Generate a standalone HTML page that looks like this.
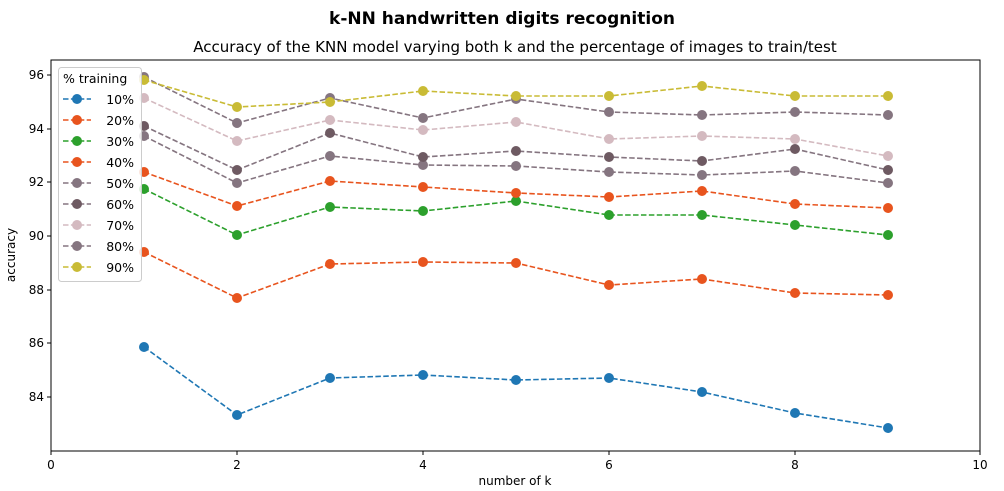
<!DOCTYPE html>
<html><head><meta charset="utf-8"><style>body{margin:0;background:#fff}svg{display:block;font-family:"DejaVu Sans","Liberation Sans",sans-serif}</style></head><body>
<svg width="1004" height="491" xmlns="http://www.w3.org/2000/svg">
<text x="502" y="24" text-anchor="middle" font-size="17" font-weight="bold">k-NN handwritten digits recognition</text>
<text x="515" y="52" text-anchor="middle" font-size="15">Accuracy of the KNN model varying both k and the percentage of images to train/test</text>
<rect x="51" y="60" width="929" height="391" fill="none" stroke="#000" stroke-width="1"/>
<g font-size="12" fill="#000">
<g stroke="#000"><line x1="51" y1="451" x2="51" y2="455"/><line x1="237" y1="451" x2="237" y2="455"/><line x1="423" y1="451" x2="423" y2="455"/><line x1="609" y1="451" x2="609" y2="455"/><line x1="795" y1="451" x2="795" y2="455"/><line x1="980" y1="451" x2="980" y2="455"/>
<line x1="47" y1="75" x2="51" y2="75"/><line x1="47" y1="129" x2="51" y2="129"/><line x1="47" y1="182" x2="51" y2="182"/><line x1="47" y1="236" x2="51" y2="236"/><line x1="47" y1="290" x2="51" y2="290"/><line x1="47" y1="343" x2="51" y2="343"/><line x1="47" y1="397" x2="51" y2="397"/></g>
<g text-anchor="middle"><text x="51" y="469">0</text><text x="237" y="469">2</text><text x="423" y="469">4</text><text x="609" y="469">6</text><text x="795" y="469">8</text><text x="980" y="469">10</text></g>
<g text-anchor="end"><text x="44" y="79">96</text><text x="44" y="133">94</text><text x="44" y="186">92</text><text x="44" y="240">90</text><text x="44" y="294">88</text><text x="44" y="347">86</text><text x="44" y="401">84</text></g>
<text x="515" y="485" text-anchor="middle">number of k</text>
<text transform="translate(15,255) rotate(-90)" text-anchor="middle">accuracy</text>
</g>
<g fill="none" stroke-width="1.6" stroke-dasharray="5.5,2.4" id="lines">
<polyline stroke="#1f77b4" points="144,347 237,415 330,378 423,375 516,380 609,378 702,392 795,413 888,428"/>
<polyline stroke="#e8541e" points="144,252 237,298 330,264 423,262 516,263 609,285 702,279 795,293 888,295"/>
<polyline stroke="#2ca02c" points="144,189 237,235 330,207 423,211 516,201 609,215 702,215 795,225 888,235"/>
<polyline stroke="#e8541e" points="144,172 237,206 330,181 423,187 516,193 609,197 702,191 795,204 888,208"/>
<polyline stroke="#857580" points="144,136 237,183 330,156 423,165 516,166 609,172 702,175 795,171 888,183"/>
<polyline stroke="#857580" points="144,126 237,170 330,133 423,157 516,151 609,157 702,161 795,149 888,170"/>
<polyline stroke="#d4bac0" points="144,98 237,141 330,120 423,130 516,122 609,139 702,136 795,139 888,156"/>
<polyline stroke="#857580" points="144,77 237,123 330,98 423,118 516,99 609,112 702,115 795,112 888,115"/>
<polyline stroke="#c9bb35" points="144,80 237,107 330,102 423,91 516,96 609,96 702,86 795,96 888,96"/>
</g>
<g>
<g fill="#1f77b4"><circle cx="144" cy="347" r="5"/><circle cx="237" cy="415" r="5"/><circle cx="330" cy="378" r="5"/><circle cx="423" cy="375" r="5"/><circle cx="516" cy="380" r="5"/><circle cx="609" cy="378" r="5"/><circle cx="702" cy="392" r="5"/><circle cx="795" cy="413" r="5"/><circle cx="888" cy="428" r="5"/></g>
<g fill="#e8541e"><circle cx="144" cy="252" r="5"/><circle cx="237" cy="298" r="5"/><circle cx="330" cy="264" r="5"/><circle cx="423" cy="262" r="5"/><circle cx="516" cy="263" r="5"/><circle cx="609" cy="285" r="5"/><circle cx="702" cy="279" r="5"/><circle cx="795" cy="293" r="5"/><circle cx="888" cy="295" r="5"/></g>
<g fill="#2ca02c"><circle cx="144" cy="189" r="5"/><circle cx="237" cy="235" r="5"/><circle cx="330" cy="207" r="5"/><circle cx="423" cy="211" r="5"/><circle cx="516" cy="201" r="5"/><circle cx="609" cy="215" r="5"/><circle cx="702" cy="215" r="5"/><circle cx="795" cy="225" r="5"/><circle cx="888" cy="235" r="5"/></g>
<g fill="#e8541e"><circle cx="144" cy="172" r="5"/><circle cx="237" cy="206" r="5"/><circle cx="330" cy="181" r="5"/><circle cx="423" cy="187" r="5"/><circle cx="516" cy="193" r="5"/><circle cx="609" cy="197" r="5"/><circle cx="702" cy="191" r="5"/><circle cx="795" cy="204" r="5"/><circle cx="888" cy="208" r="5"/></g>
<g fill="#857580"><circle cx="144" cy="136" r="5"/><circle cx="237" cy="183" r="5"/><circle cx="330" cy="156" r="5"/><circle cx="423" cy="165" r="5"/><circle cx="516" cy="166" r="5"/><circle cx="609" cy="172" r="5"/><circle cx="702" cy="175" r="5"/><circle cx="795" cy="171" r="5"/><circle cx="888" cy="183" r="5"/></g>
<g fill="#6e5a62"><circle cx="144" cy="126" r="5"/><circle cx="237" cy="170" r="5"/><circle cx="330" cy="133" r="5"/><circle cx="423" cy="157" r="5"/><circle cx="516" cy="151" r="5"/><circle cx="609" cy="157" r="5"/><circle cx="702" cy="161" r="5"/><circle cx="795" cy="149" r="5"/><circle cx="888" cy="170" r="5"/></g>
<g fill="#d4bac0"><circle cx="144" cy="98" r="5"/><circle cx="237" cy="141" r="5"/><circle cx="330" cy="120" r="5"/><circle cx="423" cy="130" r="5"/><circle cx="516" cy="122" r="5"/><circle cx="609" cy="139" r="5"/><circle cx="702" cy="136" r="5"/><circle cx="795" cy="139" r="5"/><circle cx="888" cy="156" r="5"/></g>
<g fill="#857580"><circle cx="144" cy="77" r="5"/><circle cx="237" cy="123" r="5"/><circle cx="330" cy="98" r="5"/><circle cx="423" cy="118" r="5"/><circle cx="516" cy="99" r="5"/><circle cx="609" cy="112" r="5"/><circle cx="702" cy="115" r="5"/><circle cx="795" cy="112" r="5"/><circle cx="888" cy="115" r="5"/></g>
<g fill="#c9bb35"><circle cx="144" cy="80" r="5"/><circle cx="237" cy="107" r="5"/><circle cx="330" cy="102" r="5"/><circle cx="423" cy="91" r="5"/><circle cx="516" cy="96" r="5"/><circle cx="609" cy="96" r="5"/><circle cx="702" cy="86" r="5"/><circle cx="795" cy="96" r="5"/><circle cx="888" cy="96" r="5"/></g>
</g>
<rect x="58.5" y="67.5" width="83" height="214" rx="3" fill="#fff" fill-opacity="0.85" stroke="#ccc"/>
<g font-size="12.5">
<text x="63" y="83">% training</text>
<g stroke-width="1.6" stroke-dasharray="5.5,2.4">
<line x1="63" y1="99" x2="91" y2="99" stroke="#1f77b4"/><line x1="63" y1="120" x2="91" y2="120" stroke="#e8541e"/><line x1="63" y1="141" x2="91" y2="141" stroke="#2ca02c"/><line x1="63" y1="162" x2="91" y2="162" stroke="#e8541e"/><line x1="63" y1="183" x2="91" y2="183" stroke="#857580"/><line x1="63" y1="204" x2="91" y2="204" stroke="#857580"/><line x1="63" y1="225" x2="91" y2="225" stroke="#d4bac0"/><line x1="63" y1="246" x2="91" y2="246" stroke="#857580"/><line x1="63" y1="267" x2="91" y2="267" stroke="#c9bb35"/>
</g>
<circle cx="77" cy="99" r="5" fill="#1f77b4"/><circle cx="77" cy="120" r="5" fill="#e8541e"/><circle cx="77" cy="141" r="5" fill="#2ca02c"/><circle cx="77" cy="162" r="5" fill="#e8541e"/><circle cx="77" cy="183" r="5" fill="#857580"/><circle cx="77" cy="204" r="5" fill="#6e5a62"/><circle cx="77" cy="225" r="5" fill="#d4bac0"/><circle cx="77" cy="246" r="5" fill="#857580"/><circle cx="77" cy="267" r="5" fill="#c9bb35"/>
<g text-anchor="end"><text x="134" y="104">10%</text><text x="134" y="125">20%</text><text x="134" y="146">30%</text><text x="134" y="167">40%</text><text x="134" y="188">50%</text><text x="134" y="209">60%</text><text x="134" y="230">70%</text><text x="134" y="251">80%</text><text x="134" y="272">90%</text></g>
</g>
</svg>
</body></html>
